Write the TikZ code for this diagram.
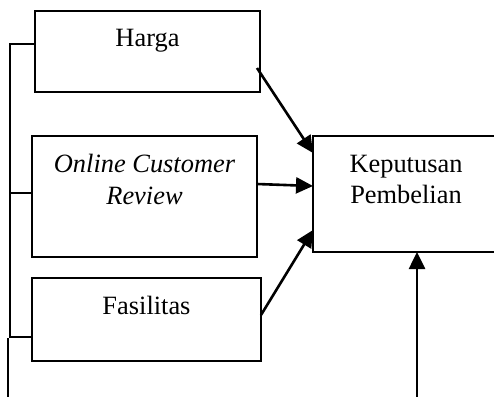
\documentclass[tikz,border=0pt]{standalone}
\usepackage{fontspec}
\setmainfont{Liberation Serif}
\usetikzlibrary{arrows.meta}
\begin{document}
\begin{tikzpicture}[x=1pt,y=-1pt,
  box/.style={draw, line width=2pt, rectangle, inner sep=0pt, outer sep=0pt},
  txt/.style={font=\fontsize{26.4}{31.5}\selectfont, inner sep=0pt, align=center, anchor=base},
  link/.style={line width=2.6pt, -{Triangle[length=17pt,width=16pt]}},
  brace/.style={line width=2.2pt}]
  \clip (0,0) rectangle (494,396);

  % variable boxes
  \node[box, minimum width=225, minimum height=81]  (harga) at (147.5,51.5) {};
  \node[box, minimum width=225, minimum height=121] (ocr)   at (144.5,196.5) {};
  \node[box, minimum width=229, minimum height=83]  (fas)   at (146.5,319.5) {};
  \node[box, minimum width=187, minimum height=116] (kp)    at (406.5,194) {};

  % box texts (two-line labels sit on the baseline of their last line)
  \node[txt] (hargat) at (147.5,46) {Harga};
  \node[txt] (ocrt)   at (144.5,204) {\itshape Online Customer\\\itshape Review};
  \node[txt] (fast)   at (146.5,314) {Fasilitas};
  \node[txt] (kpt)    at (406,203.5) {Keputusan\\Pembelian};

  % arrows into the decision box
  \coordinate (h1) at (257,68);
  \coordinate (f1) at (261,315);
  \draw[link] (h1) -- (kp.west |- 0,153);
  \draw[link] (ocr.east |- 0,184) -- (kp.west |- 0,186);
  \draw[link] (f1) -- (kp.west |- 0,230);

  % arrow from below
  \coordinate (b1) at (417,400);
  \draw[link] (b1) -- (b1 |- kp.south);

  % left bracket
  \draw[brace] (harga.west |- 0,44) -| (10,337) -- (fas.west |- 0,337);
  \draw[brace] (10,193) -- (ocr.west |- 0,193);
  \coordinate (l1) at (8,338);
  \draw[brace] (l1) -- (8,400);
\end{tikzpicture}
\end{document}
